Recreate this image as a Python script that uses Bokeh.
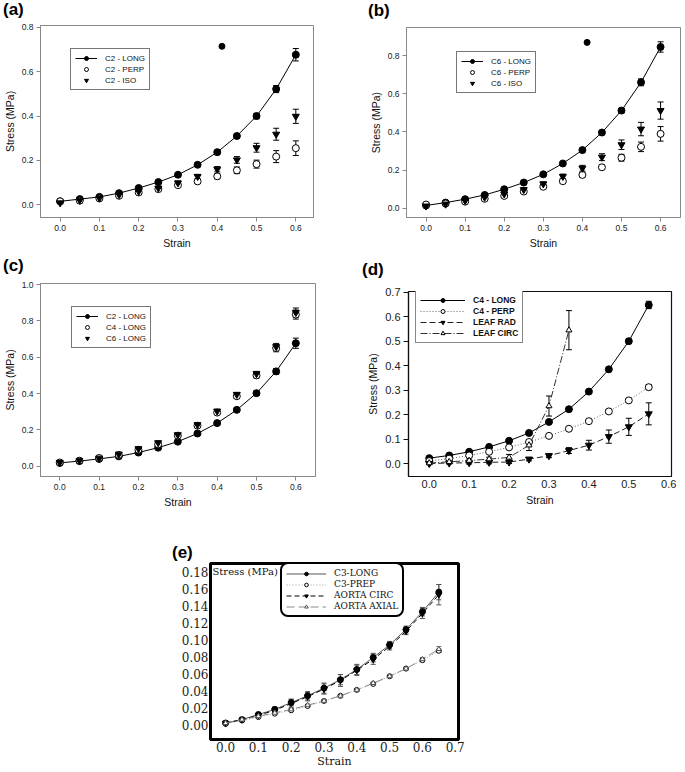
from bokeh.plotting import figure
from bokeh.models import (ColumnDataSource, Whisker, TeeHead, Legend, LegendItem,
                          FixedTicker, PrintfTickFormatter, Range1d, Label, Spacer, Div)
from bokeh.layouts import column, row
from bokeh.embed import file_html
from bokeh.resources import INLINE

# ---------------- data ----------------
strain_06 = [0.0, 0.05, 0.10, 0.15, 0.20, 0.25, 0.30, 0.35, 0.40, 0.45, 0.50, 0.55, 0.60]

# (a) C2
a_long = [0.015, 0.025, 0.035, 0.052, 0.075, 0.102, 0.135, 0.180, 0.237, 0.310, 0.400, 0.522, 0.677]
a_long_err = [0.003, 0.003, 0.004, 0.004, 0.005, 0.005, 0.006, 0.007, 0.008, 0.010, 0.012, 0.016, 0.028]
a_perp = [0.015, 0.018, 0.028, 0.040, 0.055, 0.070, 0.088, 0.105, 0.128, 0.155, 0.183, 0.217, 0.255]
a_perp_err = [0.003, 0.003, 0.004, 0.005, 0.006, 0.007, 0.008, 0.009, 0.011, 0.015, 0.018, 0.027, 0.033]
a_iso = [0.008, 0.020, 0.030, 0.045, 0.060, 0.075, 0.098, 0.127, 0.160, 0.202, 0.257, 0.318, 0.399]
a_iso_err = [0.003, 0.003, 0.004, 0.005, 0.006, 0.007, 0.009, 0.010, 0.012, 0.015, 0.020, 0.027, 0.032]
a_stray_x = [0.412]
a_stray_y = [0.715]

# (b) C6
b_long = [0.015, 0.030, 0.048, 0.070, 0.100, 0.135, 0.178, 0.235, 0.305, 0.397, 0.512, 0.660, 0.845]
b_long_err = [0.003, 0.003, 0.004, 0.005, 0.006, 0.006, 0.007, 0.008, 0.009, 0.010, 0.012, 0.018, 0.027]
b_perp = [0.020, 0.025, 0.035, 0.050, 0.065, 0.088, 0.113, 0.142, 0.175, 0.215, 0.265, 0.322, 0.390]
b_perp_err = [0.003, 0.004, 0.005, 0.006, 0.007, 0.008, 0.009, 0.010, 0.012, 0.012, 0.018, 0.025, 0.038]
b_iso = [0.012, 0.022, 0.040, 0.058, 0.075, 0.098, 0.128, 0.167, 0.210, 0.268, 0.333, 0.415, 0.512]
b_iso_err = [0.003, 0.004, 0.005, 0.006, 0.007, 0.008, 0.010, 0.012, 0.015, 0.018, 0.025, 0.035, 0.045]
b_stray_x = [0.412]
b_stray_y = [0.869]

# (c) LONG comparison
c_c2 = [0.018, 0.028, 0.040, 0.054, 0.075, 0.102, 0.135, 0.180, 0.237, 0.310, 0.402, 0.522, 0.677]
c_c2_err = [0.003, 0.003, 0.004, 0.004, 0.005, 0.005, 0.006, 0.007, 0.008, 0.010, 0.012, 0.016, 0.028]
c_c4 = [0.020, 0.030, 0.045, 0.062, 0.090, 0.120, 0.168, 0.223, 0.295, 0.385, 0.500, 0.650, 0.835]
c_c4_err = [0.003, 0.004, 0.005, 0.006, 0.007, 0.008, 0.009, 0.010, 0.011, 0.012, 0.015, 0.020, 0.025]
c_c6 = [0.020, 0.030, 0.044, 0.066, 0.096, 0.129, 0.173, 0.228, 0.303, 0.395, 0.509, 0.658, 0.846]
c_c6_err = [0.003, 0.003, 0.004, 0.005, 0.006, 0.008, 0.008, 0.009, 0.010, 0.011, 0.013, 0.018, 0.025]

# (d) C4 vs leaflet
strain_d = [0.0, 0.05, 0.10, 0.15, 0.20, 0.25, 0.30, 0.35, 0.40, 0.45, 0.50, 0.55]
d_long = [0.022, 0.033, 0.048, 0.068, 0.093, 0.125, 0.170, 0.222, 0.294, 0.385, 0.500, 0.648]
d_long_err = [0.003, 0.003, 0.004, 0.004, 0.005, 0.005, 0.006, 0.006, 0.007, 0.008, 0.009, 0.015]
d_perp = [0.010, 0.020, 0.033, 0.048, 0.066, 0.088, 0.113, 0.142, 0.173, 0.213, 0.258, 0.312]
d_perp_err = [0.003, 0.003, 0.004, 0.004, 0.005, 0.006, 0.006, 0.006, 0.007, 0.008, 0.008, 0.010]
d_rad = [0.000, 0.002, 0.003, 0.005, 0.006, 0.018, 0.032, 0.053, 0.075, 0.110, 0.150, 0.203]
d_rad_err = [0.004, 0.004, 0.005, 0.006, 0.006, 0.007, 0.008, 0.012, 0.020, 0.027, 0.035, 0.045]
strain_d_circ = [0.0, 0.05, 0.10, 0.15, 0.20, 0.25, 0.30, 0.35]
d_circ = [0.002, 0.007, 0.012, 0.018, 0.025, 0.075, 0.235, 0.545]
d_circ_err = [0.004, 0.005, 0.006, 0.008, 0.012, 0.022, 0.041, 0.080]

# (e) C3 vs aorta
strain_e = [0.0, 0.05, 0.10, 0.15, 0.20, 0.25, 0.30, 0.35, 0.40, 0.45, 0.50, 0.55, 0.60, 0.65]
e_long = [0.002, 0.006, 0.012, 0.018, 0.026, 0.034, 0.043, 0.053, 0.065, 0.079, 0.094, 0.112, 0.133, 0.156]
e_long_err = [0.001, 0.001, 0.002, 0.003, 0.004, 0.005, 0.006, 0.006, 0.006, 0.005, 0.004, 0.004, 0.005, 0.009]
e_prep = [0.001, 0.005, 0.009, 0.013, 0.017, 0.022, 0.028, 0.034, 0.041, 0.048, 0.057, 0.066, 0.076, 0.087]
e_prep_err = [0.001, 0.001, 0.001, 0.001, 0.001, 0.001, 0.001, 0.001, 0.001, 0.001, 0.001, 0.001, 0.002, 0.002]
e_circ = [0.002, 0.006, 0.011, 0.017, 0.025, 0.033, 0.042, 0.052, 0.064, 0.077, 0.092, 0.110, 0.131, 0.153]
e_circ_err = [0.001, 0.001, 0.002, 0.003, 0.005, 0.005, 0.006, 0.007, 0.006, 0.006, 0.004, 0.004, 0.006, 0.012]
e_axial = [0.002, 0.006, 0.010, 0.014, 0.018, 0.023, 0.028, 0.034, 0.041, 0.049, 0.057, 0.066, 0.077, 0.089]
e_axial_err = [0.001, 0.001, 0.001, 0.001, 0.001, 0.001, 0.001, 0.001, 0.001, 0.001, 0.001, 0.001, 0.002, 0.003]

x_ticks_06 = [0.0, 0.1, 0.2, 0.3, 0.4, 0.5, 0.6]
x_ticks_07 = [0.0, 0.1, 0.2, 0.3, 0.4, 0.5, 0.6, 0.7]
y_ticks_a = [0.0, 0.2, 0.4, 0.6, 0.8]
y_ticks_c = [0.0, 0.2, 0.4, 0.6, 0.8, 1.0]
y_ticks_d = [0.0, 0.1, 0.2, 0.3, 0.4, 0.5, 0.6, 0.7]
y_ticks_e = [0.0, 0.02, 0.04, 0.06, 0.08, 0.10, 0.12, 0.14, 0.16, 0.18]

SANS = "Liberation Sans"
SERIF = "DejaVu Serif"


def letter_div(text, w, h, pad_left, pad_top):
    html = ('<div style="font-family: \'Liberation Sans\', Arial, sans-serif; '
            'font-size: 17px; font-weight: bold; line-height: 17px; color: black; '
            'margin: 0; padding: %dpx 0 0 %dpx;">%s</div>' % (pad_top, pad_left, text))
    return Div(text=html, width=w, height=h, margin=0)


def make_fig(w, h, borders, xr, yr, xt, yt, xfmt, yfmt, font,
             tick_size, label_size, frame_color, frame_width, tick_out,
             ylabel="Stress (MPa)", xtick_out=None, lab_standoff=3, ax_standoff=3):
    bl, br, bt, bb = borders
    p = figure(width=w, height=h, output_backend="svg", toolbar_location=None,
               x_range=Range1d(*xr), y_range=Range1d(*yr),
               min_border_left=bl, min_border_right=br, min_border_top=bt,
               min_border_bottom=bb, margin=0)
    p.grid.visible = False
    p.outline_line_color = frame_color
    p.outline_line_width = frame_width
    p.outline_line_alpha = 1
    for ax, ticks, fmt in ((p.xaxis[0], xt, xfmt), (p.yaxis[0], yt, yfmt)):
        ax.ticker = FixedTicker(ticks=ticks)
        ax.formatter = PrintfTickFormatter(format=fmt)
        ax.axis_line_color = frame_color
        ax.axis_line_width = frame_width
        ax.major_tick_line_color = frame_color
        ax.minor_tick_line_color = None
        ax.major_tick_in = 0
        ax.major_tick_out = tick_out
        ax.major_label_text_font = font
        ax.major_label_text_font_size = tick_size
        ax.major_label_text_color = "#222222"
        ax.major_label_standoff = lab_standoff
        ax.axis_label_text_font = font
        ax.axis_label_text_font_size = label_size
        ax.axis_label_text_font_style = "normal"
        ax.axis_label_text_color = "#111111"
        ax.axis_label_standoff = ax_standoff
    if xtick_out is not None:
        p.xaxis[0].major_tick_out = xtick_out
    p.xaxis[0].axis_label = "Strain"
    if ylabel:
        p.yaxis[0].axis_label = ylabel
    return p


def series(p, x, y, err, marker, fill, color="black", line=False, dash="solid",
           line_color="black", size=7, lw=1.0, err_color="black", head=6):
    src = ColumnDataSource(dict(x=x, y=y,
                                lo=[v - e for v, e in zip(y, err)],
                                hi=[v + e for v, e in zip(y, err)]))
    p.add_layout(Whisker(source=src, base="x", lower="lo", upper="hi",
                         line_color=err_color, line_width=1,
                         upper_head=TeeHead(size=head, line_color=err_color, line_width=1),
                         lower_head=TeeHead(size=head, line_color=err_color, line_width=1)))
    rs = []
    if line:
        rs.append(p.line("x", "y", source=src, line_color=line_color,
                         line_width=lw, line_dash=dash))
    rs.append(p.scatter("x", "y", source=src, marker=marker, size=size,
                        fill_color=fill, line_color=color, line_width=1))
    return rs


def legend(p, items, loc, font, size, gw, lh, border="#777777", bw=1, pad=4,
           style="normal"):
    lg = Legend(items=[LegendItem(label=t, renderers=r) for t, r in items],
                location=loc, label_text_font=font, label_text_font_size=size,
                label_text_font_style=style,
                label_height=lh, glyph_height=lh, glyph_width=gw, spacing=1,
                padding=pad, margin=0, label_standoff=8,
                border_line_color=border, border_line_width=bw,
                border_line_alpha=1.0,
                background_fill_alpha=1, label_text_color="#111111")
    p.add_layout(lg)
    return lg


# ---------------- (a) ----------------
pa = make_fig(340, 234, (38, 27, 7, 35), (-0.05, 0.645), (-0.058, 0.809),
              x_ticks_06, y_ticks_a, "%.1f", "%.1f", SANS,
              "8.5px", "10.5px", "#888888", 1, 4)
r1 = series(pa, strain_06, a_long, a_long_err, "circle", "black", line=True)
r2 = series(pa, strain_06, a_perp, a_perp_err, "circle", "white")
r3 = series(pa, strain_06, a_iso, a_iso_err, "inverted_triangle", "black")
pa.scatter(a_stray_x, a_stray_y, marker="circle", size=6, color="black")
legend(pa, [("C2 - LONG", r1), ("C2 - PERP", r2), ("C2 - ISO", r3)],
       (30, 127), SANS, "8px", 22, 10)

# ---------------- (b) ----------------
pb = make_fig(345, 234, (66, 5, 9, 35), (-0.05, 0.651), (-0.048, 0.947),
              x_ticks_06, y_ticks_a, "%.1f", "%.1f", SANS,
              "8.5px", "10.5px", "#888888", 1, 4)
r1 = series(pb, strain_06, b_long, b_long_err, "circle", "black", line=True)
r2 = series(pb, strain_06, b_perp, b_perp_err, "circle", "white")
r3 = series(pb, strain_06, b_iso, b_iso_err, "inverted_triangle", "black")
pb.scatter(b_stray_x, b_stray_y, marker="circle", size=6, color="black")
legend(pb, [("C6 - LONG", r1), ("C6 - PERP", r2), ("C6 - ISO", r3)],
       (50, 124), SANS, "8px", 22, 10)

# ---------------- (c) ----------------
pc = make_fig(340, 238, (38, 25, 9, 36), (-0.049, 0.65), (-0.057, 1.006),
              x_ticks_06, y_ticks_c, "%.1f", "%.1f", SANS,
              "8.5px", "10.5px", "#888888", 1, 4)
r1 = series(pc, strain_06, c_c2, c_c2_err, "circle", "black", line=True)
r2 = series(pc, strain_06, c_c4, c_c4_err, "circle", "white")
r3 = series(pc, strain_06, c_c6, c_c6_err, "inverted_triangle", "black")
legend(pc, [("C2 - LONG", r1), ("C4 - LONG", r2), ("C6 - LONG", r3)],
       (31, 128), SANS, "8px", 22, 10)

# ---------------- (d) ----------------
pd_ = make_fig(345, 234, (68, 14, 13, 36), (-0.052, 0.607), (-0.053, 0.703),
               x_ticks_06, y_ticks_d, "%.1f", "%.1f", SANS,
               "11px", "10.5px", "#111111", 1.2, 5, xtick_out=0)
r1 = series(pd_, strain_d, d_long, d_long_err, "circle", "black", line=True)
r2 = series(pd_, strain_d, d_perp, d_perp_err, "circle", "white", line=True,
            dash="1 2", line_color="#666666")
r3 = series(pd_, strain_d, d_rad, d_rad_err, "inverted_triangle", "black",
            line=True, dash="6 3", line_color="#222222")
r4 = series(pd_, strain_d_circ, d_circ, d_circ_err, "triangle", "white",
            line=True, dash="7 2 1 2", line_color="#333333", size=6)
legend(pd_, [("C4 - LONG", r1), ("C4 - PERP", r2), ("LEAF RAD", r3), ("LEAF CIRC", r4)],
       (7, 133), SANS, "8.5px", 45, 10, border="#888888", style="bold")

# ---------------- (e) ----------------
pe = make_fig(310, 208, (40, 22, 1, 29), (-0.046, 0.71), (-0.0174, 0.1897),
              x_ticks_07, y_ticks_e, "%.1f", "%.2f", SERIF,
              "12px", "11px", "black", 3, 0, ylabel=None,
              lab_standoff=2, ax_standoff=0)
r1 = series(pe, strain_e, e_long, e_long_err, "circle", "black", line=True,
            line_color="#555555", size=6, err_color="#555555", head=5)
r2 = series(pe, strain_e, e_prep, e_prep_err, "circle", "white", line=True,
            dash="1 2", line_color="#999999", size=5, err_color="#777777", head=5)
r3 = series(pe, strain_e, e_circ, e_circ_err, "inverted_triangle", "black",
            line=True, dash="5 3", line_color="black", size=6, err_color="#555555", head=5)
r4 = series(pe, strain_e, e_axial, e_axial_err, "triangle", "white", line=True,
            dash="8 4", line_color="#888888", size=5, color="#555555",
            err_color="#777777", head=5)
lg_e = legend(pe, [("C3-LONG", r1), ("C3-PREP", r2), ("AORTA CIRC", r3), ("AORTA AXIAL", r4)],
              (70, 122), SERIF, "9px", 40, 9, border="black", bw=2.5, pad=4)
if "border_radius" in lg_e.properties():
    lg_e.border_radius = 8
pe.add_layout(Label(x=pe.x_range.start, y=pe.y_range.end, x_offset=2, y_offset=-2,
                    text="Stress (MPa)", text_font=SERIF, text_font_size="10px",
                    text_baseline="top", text_align="left", text_color="#111111"))

layout = column(
    row(column(letter_div("(a)", 340, 18, 3, 1), pa),
        column(letter_div("(b)", 345, 18, 28, 2), pb)),
    row(column(letter_div("(c)", 340, 22, 3, 5), pc),
        column(letter_div("(d)", 345, 26, 22, 9), pd_)),
    row(Spacer(width=170, height=258),
        column(letter_div("(e)", 310, 50, 2, 32), pe)),
)
open("out.html", "w").write(file_html(layout, INLINE))
